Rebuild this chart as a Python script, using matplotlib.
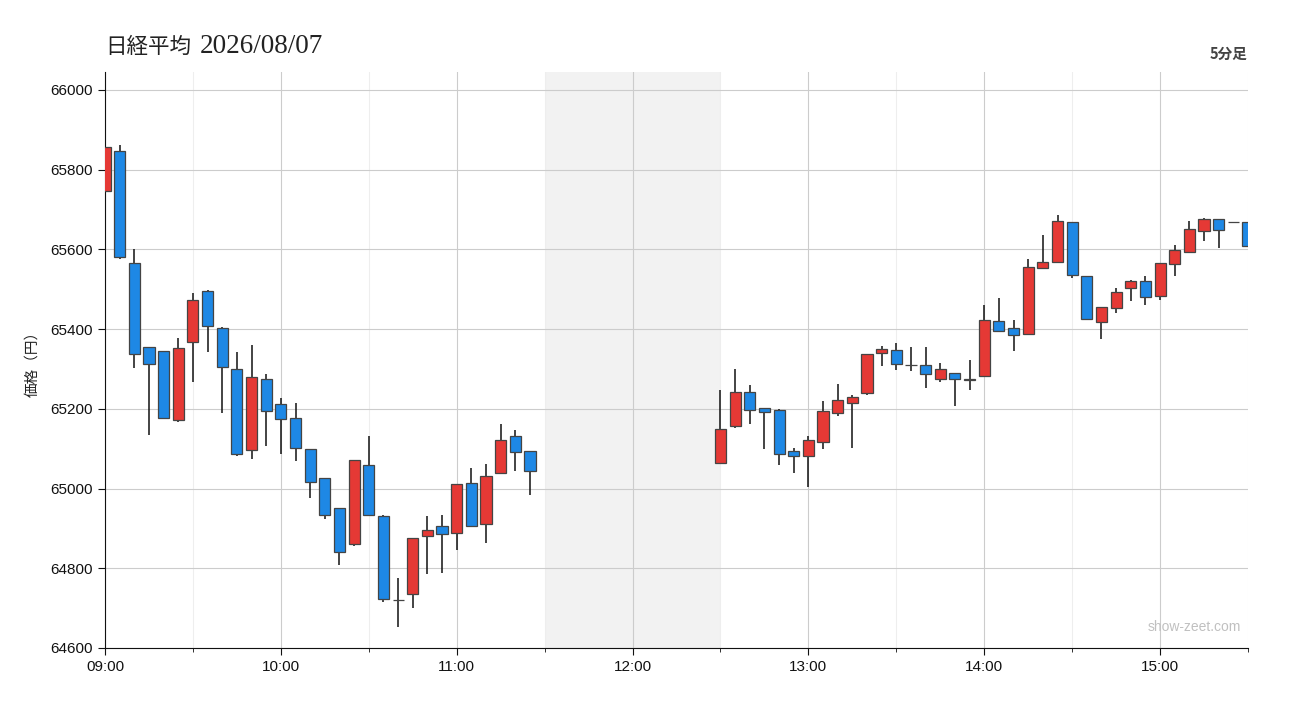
import matplotlib
matplotlib.use("Agg")
import matplotlib.pyplot as plt
from matplotlib.patches import Rectangle
from matplotlib.ticker import FixedLocator

plt.rcParams['font.family'] = ['Noto Sans CJK JP', 'DejaVu Sans']

# ---- data (5-minute candles) ----
times = ["09:00", "09:05", "09:10", "09:15", "09:20", "09:25", "09:30", "09:35", "09:40", "09:45",
         "09:50", "09:55", "10:00", "10:05", "10:10", "10:15", "10:20", "10:25", "10:30", "10:35",
         "10:40", "10:45", "10:50", "10:55", "11:00", "11:05", "11:10", "11:15", "11:20", "11:25",
         "12:30", "12:35", "12:40", "12:45", "12:50", "12:55", "13:00", "13:05", "13:10", "13:15",
         "13:20", "13:25", "13:30", "13:35", "13:40", "13:45", "13:50", "13:55", "14:00", "14:05",
         "14:10", "14:15", "14:20", "14:25", "14:30", "14:35", "14:40", "14:45", "14:50", "14:55",
         "15:00", "15:05", "15:10", "15:15", "15:20", "15:25", "15:30"]
opens = [65746, 65846, 65567, 65354, 65345, 65171, 65367, 65495, 65404, 65299,
         65096, 65274, 65211, 65176, 65099, 65026, 64950, 64860, 65058, 64930,
         64721, 64735, 64880, 64905, 64888, 65014, 64910, 65038, 65131, 65093,
         65063, 65158, 65241, 65201, 65196, 65093, 65081, 65118, 65189, 65214,
         65239, 65339, 65347, 65309, 65309, 65276, 65289, 65276, 65282, 65420,
         65402, 65387, 65553, 65568, 65668, 65532, 65417, 65452, 65502, 65520,
         65482, 65564, 65593, 65645, 65676, 65669, 65668]
highs = [65856, 65862, 65601, 65356, 65345, 65378, 65491, 65498, 65406, 65343,
         65360, 65287, 65228, 65215, 65100, 65027, 64950, 65071, 65132, 64934,
         64775, 64876, 64931, 64934, 65011, 65052, 65062, 65162, 65147, 65093,
         65247, 65300, 65260, 65202, 65199, 65102, 65133, 65220, 65262, 65235,
         65337, 65358, 65365, 65355, 65355, 65315, 65289, 65323, 65461, 65478,
         65423, 65577, 65635, 65687, 65668, 65532, 65455, 65502, 65523, 65533,
         65565, 65611, 65672, 65678, 65676, 65669, 65668]
lows = [65725, 65577, 65303, 65135, 65174, 65168, 65268, 65343, 65190, 65082,
        65075, 65107, 65087, 65070, 64977, 64924, 64809, 64857, 64933, 64716,
        64652, 64701, 64786, 64788, 64847, 64904, 64864, 65038, 65045, 64985,
        65063, 65153, 65163, 65100, 65060, 65040, 65005, 65098, 65183, 65102,
        65235, 65308, 65298, 65296, 65253, 65268, 65208, 65248, 65282, 65392,
        65346, 65386, 65553, 65567, 65529, 65425, 65374, 65440, 65471, 65460,
        65474, 65534, 65593, 65620, 65604, 65669, 65608]
closes = [65856, 65580, 65337, 65312, 65176, 65352, 65472, 65407, 65304, 65087,
          65279, 65194, 65174, 65101, 65016, 64933, 64842, 65071, 64933, 64724,
          64721, 64875, 64895, 64885, 65011, 64907, 65031, 65121, 65091, 65043,
          65149, 65241, 65196, 65191, 65086, 65082, 65123, 65194, 65221, 65229,
          65337, 65349, 65312, 65311, 65287, 65299, 65274, 65272, 65422, 65394,
          65384, 65555, 65568, 65670, 65535, 65425, 65455, 65492, 65520, 65480,
          65565, 65598, 65650, 65676, 65648, 65669, 65608]

hour_labels = ["09:00", "10:00", "11:00", "12:00", "13:00", "14:00", "15:00"]
y_ticks = [64600, 64800, 65000, 65200, 65400, 65600, 65800, 66000]
title_name = "日経平均"
title_date = "2026/08/07"
UP = "#e53935"
DOWN = "#1e88e5"


def to_min(t):
    h, m = t.split(":")
    return (int(h) - 9) * 60 + int(m)


fig = plt.figure(figsize=(13, 7.2), dpi=100)
ax = fig.add_axes([105 / 1300, 1 - 648 / 720, (1248 - 105) / 1300, (648 - 72) / 720])

# lunch break shading
ax.axvspan(to_min("11:30"), to_min("12:30"), color="#f2f2f2", zorder=0, lw=0)

xs = [to_min(t) for t in times]
w = 3.8
ax.vlines(xs, lows, highs, color="#111111", lw=1.1, zorder=2)
for x, o, c in zip(xs, opens, closes):
    col = UP if c > o else DOWN
    ax.add_patch(Rectangle((x - w / 2, min(o, c)), w, abs(c - o), facecolor=col,
                           edgecolor="#444444", lw=0.9, zorder=3))

ax.set_xlim(0, 390)
ax.set_ylim(64600, 66045)

hx = [to_min(t) for t in hour_labels]
ax.xaxis.set_major_locator(FixedLocator(hx))
ax.set_xticklabels(hour_labels)
ax.xaxis.set_minor_locator(FixedLocator([h + 30 for h in hx]))
ax.set_yticks(y_ticks)
ax.set_yticklabels([str(v) for v in y_ticks])
for lab in ax.get_xticklabels() + ax.get_yticklabels():
    lab.set_family(["Liberation Sans", "DejaVu Sans"])

ax.grid(True, which="major", color="#cccccc", lw=0.8, zorder=1)
ax.grid(True, which="minor", axis="x", color="#eeeeee", lw=0.8, zorder=1)
ax.set_axisbelow(True)

for s in ("top", "right"):
    ax.spines[s].set_visible(False)
ax.spines["left"].set_color("#111111")
ax.spines["bottom"].set_color("#111111")
ax.tick_params(axis="both", which="major", labelsize=11, colors="#111111", length=5)
ax.tick_params(axis="x", which="minor", length=3, color="#111111")

ax.set_ylabel("価格（円）", fontsize=10.5, color="#222222", labelpad=8)

fig.text(105 / 1300, 1 - 53 / 720, title_name, fontsize=15.5, color="#222222",
         va="baseline", ha="left")
fig.text(200 / 1300, 1 - 53 / 720, title_date, fontsize=19.5, color="#222222",
         family=["Liberation Serif", "DejaVu Serif"], va="baseline", ha="left")
fig.text(1248 / 1300, 1 - 54 / 720, "5分足", fontsize=10.5, fontweight="bold",
         color="#444444", va="center", ha="right")
ax.text(0.9935, 0.036, "show-zeet.com", transform=ax.transAxes, fontsize=10,
        color="#c0c0c0", ha="right", va="center", family=["Liberation Sans", "DejaVu Sans"])

fig.savefig("out.png", dpi=100, facecolor="white")
